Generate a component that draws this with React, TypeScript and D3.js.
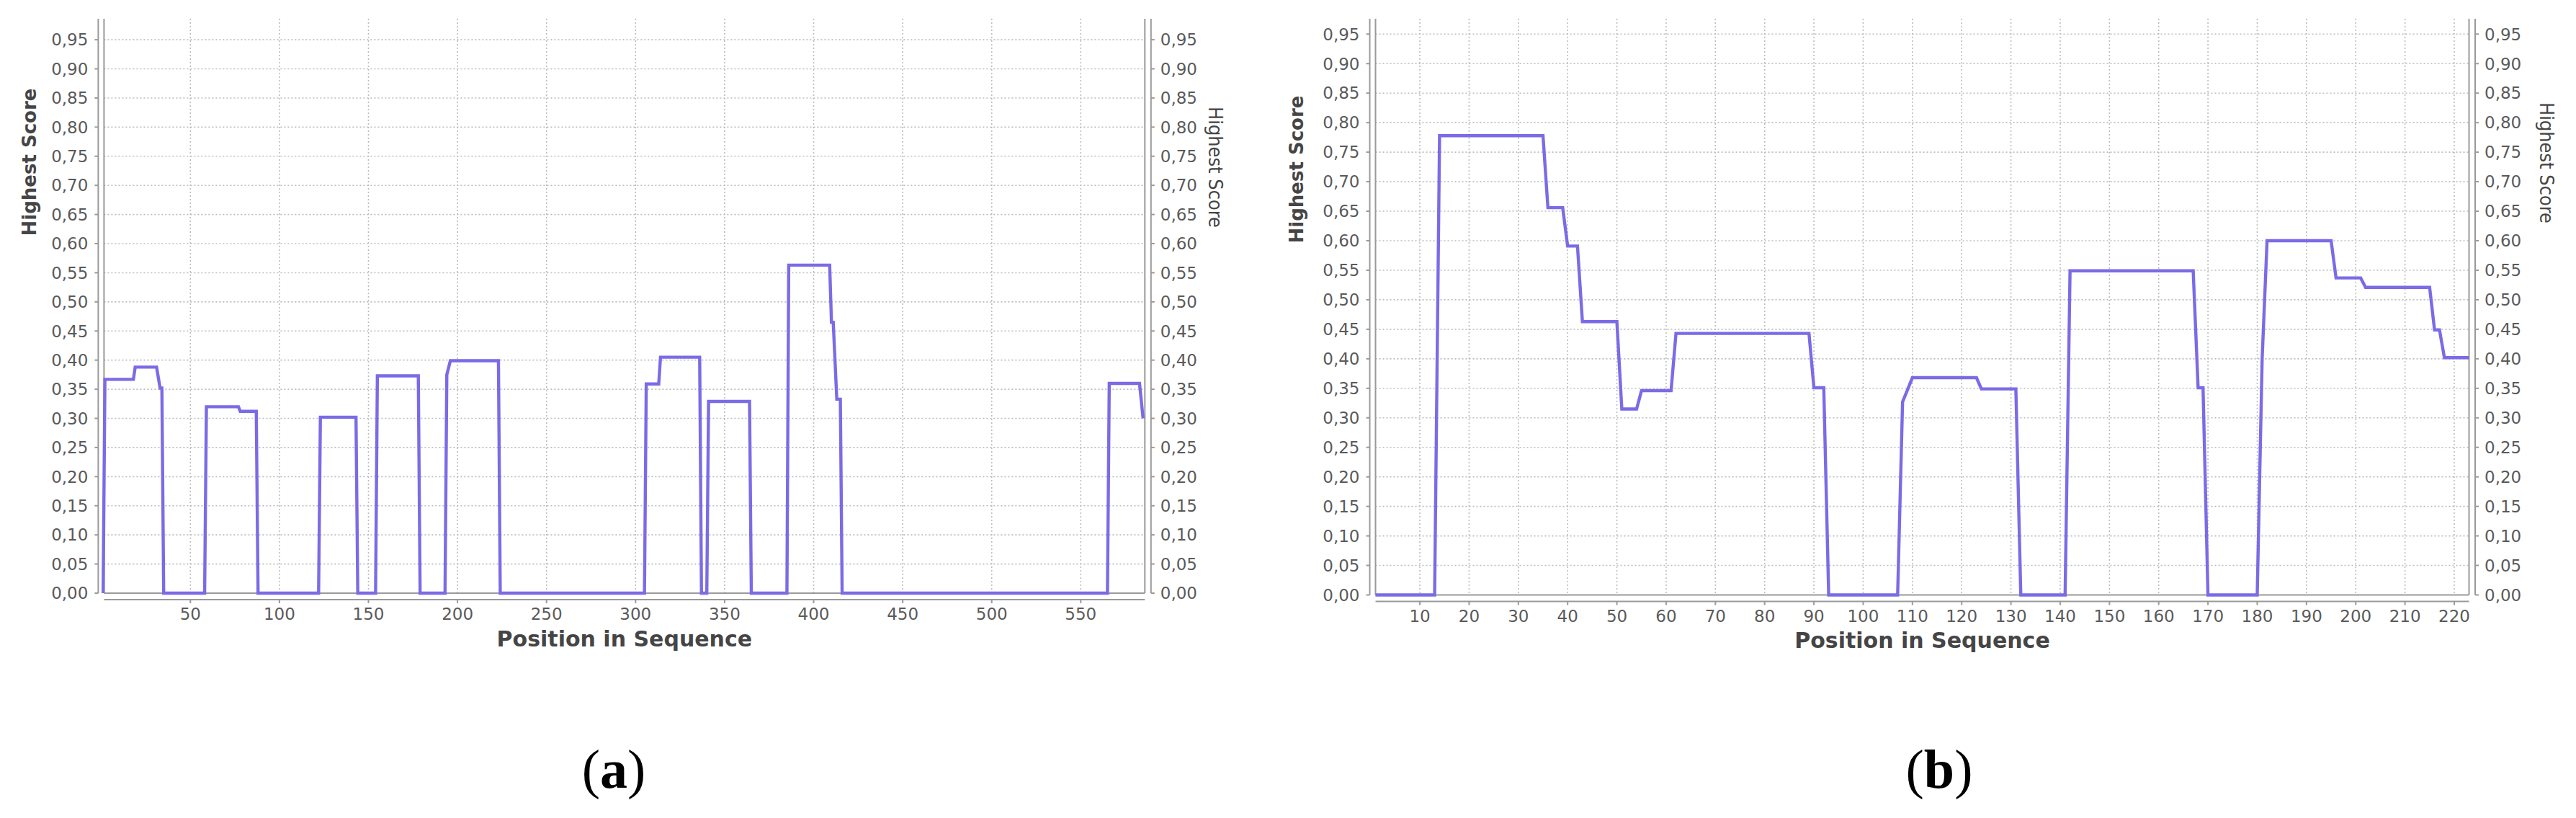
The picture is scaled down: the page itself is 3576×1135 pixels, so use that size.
import React from 'react';
import * as d3 from 'd3';

// panel (a): position in sequence / highest score
const positionsA = [1, 2, 18, 19, 31, 33, 34, 35, 58, 59, 77, 78, 87, 88, 122, 123, 143, 144, 154, 155, 178, 179, 193, 194, 196, 223, 224, 305, 306, 313, 314, 336, 337, 340, 341, 364, 365, 385, 386, 409, 410, 411, 413, 415, 416, 565, 566, 583, 585];
const scoresA = [0, 0.367, 0.367, 0.388, 0.388, 0.352, 0.352, 0, 0, 0.32, 0.32, 0.312, 0.312, 0, 0, 0.302, 0.302, 0, 0, 0.373, 0.373, 0, 0, 0.375, 0.399, 0.399, 0, 0, 0.359, 0.359, 0.405, 0.405, 0, 0, 0.329, 0.329, 0, 0, 0.563, 0.563, 0.465, 0.465, 0.333, 0.333, 0, 0, 0.36, 0.36, 0.3];

// panel (b)
const positionsB = [1, 13, 14, 35, 36, 39, 40, 42, 43, 50, 51, 54, 55, 61, 62, 89, 90, 92, 93, 107, 108, 110, 123, 124, 131, 132, 141, 142, 167, 168, 169, 170, 180, 181, 182, 195, 196, 201, 202, 215, 216, 217, 218, 223];
const scoresB = [0, 0, 0.778, 0.778, 0.656, 0.656, 0.591, 0.591, 0.463, 0.463, 0.315, 0.315, 0.346, 0.346, 0.443, 0.443, 0.351, 0.351, 0, 0, 0.327, 0.368, 0.368, 0.349, 0.349, 0, 0, 0.549, 0.549, 0.351, 0.351, 0, 0, 0.4, 0.6, 0.6, 0.537, 0.537, 0.521, 0.521, 0.449, 0.449, 0.402, 0.402];

const xTicksA = [50, 100, 150, 200, 250, 300, 350, 400, 450, 500, 550];
const xTicksB = [10, 20, 30, 40, 50, 60, 70, 80, 90, 100, 110, 120, 130, 140, 150, 160, 170, 180, 190, 200, 210, 220];
const yTicks = [0, 0.05, 0.1, 0.15, 0.2, 0.25, 0.3, 0.35, 0.4, 0.45, 0.5, 0.55, 0.6, 0.65, 0.7, 0.75, 0.8, 0.85, 0.9, 0.95];

const xTitle = 'Position in Sequence';
const yTitle = 'Highest Score';

const LINE = '#7b6be6';
const AXIS = '#9a9a9a';
const GRID = '#bcbcbc';
const TICK_TXT = '#5a5a5a';
const TITLE_TXT = '#454545';
const FONT = '"DejaVu Sans", sans-serif';

const fmtY = (v) => d3.format('.2f')(v).replace('.', ',');

function Panel({ positions, scores, xTicks, xDomain, yDomain, box, caption }) {
  const x = d3.scaleLinear().domain(xDomain).range([box.left, box.right]);
  const y = d3.scaleLinear().domain(yDomain).range([box.bottom, box.top]);
  const pts = positions.map((p, i) => [p, scores[i]]);
  const line = d3.line().x((d) => x(d[0])).y((d) => y(d[1]));

  const axL = box.left - 8;
  const axR = box.right + 8.5;
  const axB = box.bottom + 9;
  const midX = (box.left + box.right) / 2;

  return (
    <g>
      {/* grid */}
      {xTicks.map((t) => (
        <line key={'gx' + t} x1={x(t)} x2={x(t)} y1={box.top} y2={box.bottom}
          stroke={GRID} strokeWidth={1.6} strokeDasharray="2,3" />
      ))}
      {yTicks.filter((t) => t > 0).map((t) => (
        <line key={'gy' + t} x1={box.left} x2={box.right} y1={y(t)} y2={y(t)}
          stroke={GRID} strokeWidth={1.6} strokeDasharray="2,3" />
      ))}

      {/* plot border lines */}
      <line x1={box.left} x2={box.left} y1={box.top} y2={box.bottom} stroke={AXIS} strokeWidth={2} />
      <line x1={box.right} x2={box.right} y1={box.top} y2={box.bottom} stroke={AXIS} strokeWidth={2} />
      <line x1={box.left} x2={box.right} y1={box.bottom} y2={box.bottom} stroke={AXIS} strokeWidth={2} />

      {/* offset axes */}
      <line x1={axL} x2={axL} y1={box.top} y2={box.bottom} stroke={AXIS} strokeWidth={2} />
      <line x1={axR} x2={axR} y1={box.top} y2={box.bottom} stroke={AXIS} strokeWidth={2} />
      <line x1={box.left} x2={box.right} y1={axB} y2={axB} stroke={AXIS} strokeWidth={2} />

      {yTicks.map((t) => (
        <g key={'yt' + t}>
          <line x1={axL - 5} x2={axL} y1={y(t)} y2={y(t)} stroke={AXIS} strokeWidth={2} />
          <line x1={axR} x2={axR + 5} y1={y(t)} y2={y(t)} stroke={AXIS} strokeWidth={2} />
          <text x={axL - 14} y={y(t)} dy="0.36em" textAnchor="end" fontSize={23}
            fill={TICK_TXT} fontFamily={FONT}>{fmtY(t)}</text>
          <text x={axR + 13} y={y(t)} dy="0.36em" textAnchor="start" fontSize={23}
            fill={TICK_TXT} fontFamily={FONT}>{fmtY(t)}</text>
        </g>
      ))}

      {xTicks.map((t) => (
        <g key={'xt' + t}>
          <line x1={x(t)} x2={x(t)} y1={axB} y2={axB + 5} stroke={AXIS} strokeWidth={2} />
          <text x={x(t)} y={axB + 20} dy="0.36em" textAnchor="middle" fontSize={23}
            fill={TICK_TXT} fontFamily={FONT}>{t}</text>
        </g>
      ))}

      <path d={line(pts)} fill="none" stroke={LINE} strokeWidth={4.4} strokeLinejoin="miter" />

      {/* titles */}
      <text x={midX} y={axB + 54} dy="0.36em" textAnchor="middle" fontSize={30}
        fontWeight="bold" fill={TITLE_TXT} fontFamily={FONT}>{xTitle}</text>
      <text transform={`translate(${box.leftTitleX},${box.leftTitleY}) rotate(-90)`}
        dy="0.36em" textAnchor="middle" fontSize={26} fontWeight="bold"
        fill={TITLE_TXT} fontFamily={FONT}>{yTitle}</text>
      <text transform={`translate(${box.rightTitleX},${box.rightTitleY}) rotate(90)`}
        dy="0.36em" textAnchor="middle" fontSize={26} textLength={168} lengthAdjust="spacingAndGlyphs"
        fill={TITLE_TXT} fontFamily={'"DejaVu Sans Condensed", "DejaVu Sans", sans-serif'}>{yTitle}</text>

      {/* caption */}
      <text x={box.captionX} y={1093} textAnchor="middle" fontSize={76}
        fontFamily={'"Liberation Serif", "Times New Roman", serif'} fill="#000">
        (<tspan fontWeight="bold">{caption}</tspan>)
      </text>
    </g>
  );
}

export default function App() {
  return (
    <svg width={3576} height={1135} style={{ position: 'absolute', left: 0, top: 0, background: '#fff' }}>
      <rect width={3576} height={1135} fill="#fff" />
      <Panel positions={positionsA} scores={scoresA} xTicks={xTicksA}
        xDomain={[1.5, 586]} yDomain={[0, 0.986]}
        box={{ left: 144.4, right: 1589.3, top: 26, bottom: 823, leftTitleX: 41, leftTitleY: 225,
          rightTitleX: 1687, rightTitleY: 232, captionX: 852 }}
        caption="a" />
      <Panel positions={positionsB} scores={scoresB} xTicks={xTicksB}
        xDomain={[1, 223]} yDomain={[0, 0.976]}
        box={{ left: 1909.5, right: 3427.5, top: 26, bottom: 825.5, leftTitleX: 1800, leftTitleY: 235,
          rightTitleX: 3535, rightTitleY: 226, captionX: 2692 }}
        caption="b" />
    </svg>
  );
}
